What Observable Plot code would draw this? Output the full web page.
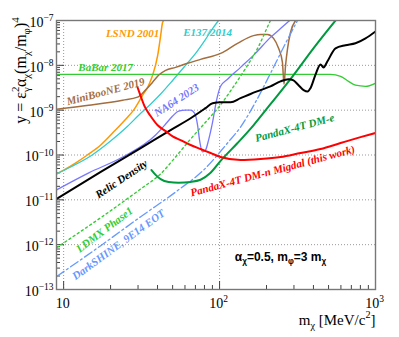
<!DOCTYPE html>
<html><head><meta charset="utf-8">
<script src="https://cdn.jsdelivr.net/npm/d3@7"></script>
<script src="https://cdn.jsdelivr.net/npm/@observablehq/plot@0.6"></script>
<style>body{margin:0;background:#fff}</style>
</head><body><div id="chart"></div>
<script>
// ---- data (m_chi in MeV/c^2, y) ----
const lsndX = [9.02, 10, 11.9, 14.2, 17.3, 21.5, 25.0, 28.1, 32.1, 35.1, 37.2, 40.1, 41.9, 43.1, 43.8];
const lsndY = [3.8e-11, 4.6e-11, 6.6e-11, 1e-10, 1.67e-10, 3.6e-10, 6.3e-10, 1e-9, 2.15e-9, 3.6e-9, 6.0e-9, 1.67e-8, 4.6e-8, 9.0e-8, 1e-7];

const e137X = [9.02, 11.1, 14.9, 20.0, 25.0, 30.3, 36.1, 41.9, 50.0, 60.5, 70.2, 81.3, 90.2, 98.5];
const e137Y = [3.8e-11, 5.4e-11, 9.5e-11, 2.05e-10, 4.0e-10, 7.7e-10, 1.36e-9, 2.3e-9, 4.6e-9, 1e-8, 1.85e-8, 3.8e-8, 6.6e-8, 1e-7];

const babarX = [9, 515, 597, 671, 744, 863, 1000];
const babarY = [6.3e-9, 6.3e-9, 5.7e-9, 4.4e-9, 3.6e-9, 3.4e-9, 4.0e-9];

const minibooneX = [9.02, 14.5, 23.9, 29.8, 33.5, 37.2, 40.6, 45.1, 52.2, 62.4, 75.5, 101.5, 130.4, 165, 183, 203, 222, 239, 253, 259, 265, 273, 285, 307];
const minibooneY = [1.05e-9, 1.29e-9, 1.67e-9, 1.95e-9, 2.8e-9, 4.2e-9, 6.0e-9, 7.7e-9, 9.0e-9, 1.11e-8, 1.36e-8, 1.85e-8, 3.1e-8, 4.6e-8, 4.9e-8, 4.9e-8, 4.0e-8, 2.4e-8, 1.17e-8, 3.8e-9, 1.0e-8, 2.4e-8, 5.4e-8, 1e-7];

const na64X = [9.02, 14.5, 23.9, 38.9, 45.1, 50.0, 54.6, 60.5, 65.2, 69.1, 72.3, 74.4, 77.8, 81.3, 85.0, 90.2, 95.7, 101.5, 112.5, 136.3, 170, 212, 246, 281];
const na64Y = [1.67e-11, 4.0e-11, 9.0e-11, 2.8e-10, 4.9e-10, 7.4e-10, 9.5e-10, 1e-9, 1e-9, 8.6e-10, 4.6e-10, 2.15e-10, 1.17e-10, 1.29e-10, 2.15e-10, 5.4e-10, 1.67e-9, 3.4e-9, 4.9e-9, 9.0e-9, 1.85e-8, 4.2e-8, 6.6e-8, 1e-7];

const relicX = [9.02, 17.3, 31.2, 48.5, 65.2, 81.3, 90.2, 101.5, 117.6, 136.3, 158, 183, 212, 246, 277, 298, 321, 346, 367, 383, 413, 444, 464, 492, 554, 642, 744, 863, 1000];
const relicY = [1.05e-11, 4.2e-11, 1.43e-10, 3.6e-10, 6.6e-10, 1.11e-9, 1.43e-9, 1.5e-9, 1.5e-9, 1.85e-9, 2.3e-9, 2.8e-9, 3.4e-9, 4.4e-9, 4.9e-9, 4.6e-9, 3.6e-9, 2.8e-9, 2.6e-9, 3.1e-9, 6.3e-9, 1.05e-8, 9.0e-9, 1.23e-8, 2.4e-8, 2.8e-8, 3.1e-8, 4.0e-8, 5.7e-8];

const migdalX = [29.8, 31.2, 33.0, 36.1, 40.1, 45.1, 50.0, 56.2, 65.2, 75.5, 87.6, 101.5, 136.3, 183, 246, 331, 444, 597, 801, 1000];
const migdalY = [3.2e-9, 2.05e-9, 1.23e-9, 7.4e-10, 4.6e-10, 3.4e-10, 2.6e-10, 2.15e-10, 1.67e-10, 1.36e-10, 1.11e-10, 9.0e-11, 7.7e-11, 8.1e-11, 9.0e-11, 1.11e-10, 1.36e-10, 1.85e-10, 2.5e-10, 3.1e-10];

const dmeX = [36.6, 38.9, 41.9, 47.1, 54.6, 65.2, 75.5, 87.6, 101.5, 130.4, 165, 212, 294, 400, 554];
const dmeY = [4.6e-11, 3.6e-11, 2.9e-11, 2.5e-11, 2.4e-11, 2.5e-11, 2.8e-11, 4.0e-11, 7.4e-11, 1.85e-10, 4.6e-10, 1.36e-9, 5.7e-9, 2.4e-8, 1e-7];

const ldmxX = [9.02, 17.3, 31.2, 41.9, 52.2, 65.2, 81.3, 100, 121, 147, 178, 206, 212];
const ldmxY = [8.6e-13, 4.0e-12, 1.75e-11, 3.8e-11, 9.0e-11, 2.27e-10, 5.4e-10, 1.23e-9, 3.1e-9, 8.6e-9, 2.65e-8, 8.1e-8, 1e-7];

const darkshineX = [9.02, 17.3, 31.2, 54.6, 78.9, 112.5, 136.3, 172.7, 212, 265, 316];
const darkshineY = [1.95e-13, 9.5e-13, 4.2e-12, 1.67e-11, 4.6e-11, 1.85e-10, 4.2e-10, 1.67e-9, 6.6e-9, 3.1e-8, 1e-7];

// labels: text, x, y, rotation, colour
const labelText = ["LSND 2001", "E137/2014", "BaBar 2017", "MiniBooNE 2019", "NA64 2023", "Relic Density", "PandaX-4T DM-e", "PandaX-4T DM-n Migdal (this work)", "LDMX Phase1", "DarkSHINE, 9E14 EOT"];
const labelX = [27.7, 83.8, 18.6, 18.6, 53, 23.5, 303, 219, 18.3, 22.5];
const labelY = [5.1e-8, 5.4e-8, 9.0e-9, 2.6e-9, 1.67e-9, 2.9e-11, 4.0e-10, 4.4e-11, 2.15e-12, 1.0e-12];
const labelRot = [0, 0, 0, -15, -33, -34, -15, -15, -37, -36];

const yTickVals = [1e-13, 1e-12, 1e-11, 1e-10, 1e-9, 1e-8, 1e-7];
const yTickLabels = ["10^{−13}", "10^{−12}", "10^{−11}", "10^{−10}", "10^{−9}", "10^{−8}", "10^{−7}"];
const xTickVals = [10, 100, 1000];
const xTickLabels = ["10", "10^{2}", "10^{3}"];

const W = 399, H = 337, mL = 56, mR = 24, mT = 20, mB = 48;
const plotW = W - mL - mR, plotH = H - mT - mB;

const series = [
  {x: lsndX, y: lsndY, color: "#ff9900", w: 1.5},
  {x: e137X, y: e137Y, color: "#33cccc", w: 1.3},
  {x: babarX, y: babarY, color: "#33cc33", w: 1.3},
  {x: minibooneX, y: minibooneY, color: "#a36d3e", w: 1.5},
  {x: na64X, y: na64Y, color: "#7777ff", w: 1.3},
  {x: ldmxX, y: ldmxY, color: "#33cc33", w: 1.4, dash: "2,3"},
  {x: darkshineX, y: darkshineY, color: "#6699ff", w: 1.3, dash: "9,3,2,3"},
  {x: dmeX, y: dmeY, color: "#009a3e", w: 2},
  {x: relicX, y: relicY, color: "#000000", w: 2},
  {x: migdalX, y: migdalY, color: "#ff0000", w: 2},
];
const labelColors = ["#ff9900", "#33cccc", "#33cc33", "#a36d3e", "#7777ff", "#000000", "#009a3e", "#ff0000", "#33cc33", "#6699ff"];

const labels = labelText.map((t, i) => ({t, x: labelX[i], y: labelY[i], r: labelRot[i], c: labelColors[i]}));

const yMinor = [];
for (let e = -13; e < -7; e++) for (let k = 2; k <= 9; k++) yMinor.push(k * Math.pow(10, e));
const xMinor = [9];
for (let e = 1; e < 3; e++) for (let k = 2; k <= 9; k++) xMinor.push(k * Math.pow(10, e));

const marks = [
  Plot.ruleY(yTickVals.slice(1, -1), {stroke: "#999", strokeDasharray: "1,2", strokeWidth: 1}),
  Plot.ruleX([10, 100], {stroke: "#999", strokeDasharray: "1,2", strokeWidth: 1}),
  Plot.ruleY(yTickVals, {insetRight: plotW - 8, stroke: "#444", strokeWidth: 1}),
  Plot.ruleY(yMinor, {insetRight: plotW - 4, stroke: "#444", strokeWidth: 1}),
  Plot.ruleX(xTickVals, {insetTop: plotH - 8, stroke: "#444", strokeWidth: 1}),
  Plot.ruleX(xMinor, {insetTop: plotH - 4, stroke: "#444", strokeWidth: 1}),
];
for (const s of series) {
  marks.push(Plot.line(d3.zip(s.x, s.y), {x: d => d[0], y: d => d[1], stroke: s.color, strokeWidth: s.w, strokeDasharray: s.dash, curve: "monotone-x", clip: true}));
}
marks.push(Plot.text(labels, {x: "x", y: "y", text: "t", rotate: "r", fill: "c", fontSize: 11, fontWeight: "bold", fontStyle: "italic", fontFamily: "Liberation Serif", textAnchor: "middle"}));
marks.push(
  Plot.text(["α_{χ}=0.5, m_{φ}=3 m_{χ}"], {x: [246], y: [5.4e-13], text: d => d, fontSize: 12, fontWeight: "bold", fontFamily: "Liberation Sans", textAnchor: "middle", fill: "#000"}),
  Plot.text(yTickVals, {y: d => d, text: (d, i) => yTickLabels[i], frameAnchor: "left", dx: -3, dy: 2, textAnchor: "end", fontSize: 14, fontFamily: "Liberation Serif", fill: "#000"}),
  Plot.text(xTickVals, {x: d => d, text: (d, i) => xTickLabels[i], frameAnchor: "bottom", dx: -1, dy: 18, textAnchor: "middle", fontSize: 14, fontFamily: "Liberation Serif", fill: "#000"}),
  Plot.text(["y = ε^{2}_{γ}α_{χ}(m_{χ}/m_{φ})^{4}"], {text: d => d, frameAnchor: "top-left", dx: -42, dy: 50, rotate: -90, textAnchor: "middle", fontSize: 16, fontFamily: "Liberation Serif", fill: "#000"}),
  Plot.text(["m_{χ} [MeV/c^{2}]"], {text: d => d, frameAnchor: "bottom-right", dy: 35, textAnchor: "end", fontSize: 15, fontFamily: "Liberation Serif", fill: "#000"}),
  Plot.frame({stroke: "#777", strokeWidth: 1.4})
);

const chart = Plot.plot({
  width: W, height: H,
  marginLeft: mL, marginRight: mR, marginTop: mT, marginBottom: mB,
  x: {type: "log", domain: [9, 1000], axis: null},
  y: {type: "log", domain: [1e-13, 1e-7], axis: null},
  style: {background: "white", fontFamily: "Liberation Serif"},
  marks
});
document.getElementById("chart").appendChild(chart);

// rich text: ^{...} superscript, _{...} subscript
function richify(root) {
  const ns = "http://www.w3.org/2000/svg";
  root.querySelectorAll("text").forEach(t => {
    const s = t.textContent;
    if (!/[_^]\{/.test(s)) return;
    const fs = parseFloat(getComputedStyle(t).fontSize) || 12;
    while (t.firstChild) t.removeChild(t.firstChild);
    const re = /([_^])\{([^}]*)\}/g;
    let last = 0, m, cur = 0, prev = null, prevType = null;
    const add = (str, type) => {
      const ts = document.createElementNS(ns, "tspan");
      const target = type === "^" ? -0.42 * fs : type === "_" ? 0.28 * fs : 0;
      ts.setAttribute("dy", (target - cur).toFixed(2));
      cur = target;
      if (type) ts.setAttribute("font-size", (0.68 * fs).toFixed(1));
      if (type === "_" && prevType === "^" && prev) ts.setAttribute("dx", (-prev.getComputedTextLength()).toFixed(2));
      ts.textContent = str;
      t.appendChild(ts);
      prev = ts; prevType = type;
    };
    while ((m = re.exec(s))) {
      if (m.index > last) add(s.slice(last, m.index), null);
      add(m[2], m[1]);
      last = re.lastIndex;
    }
    if (last < s.length) add(s.slice(last), null);
  });
}
richify(chart);
</script>
</body></html>
